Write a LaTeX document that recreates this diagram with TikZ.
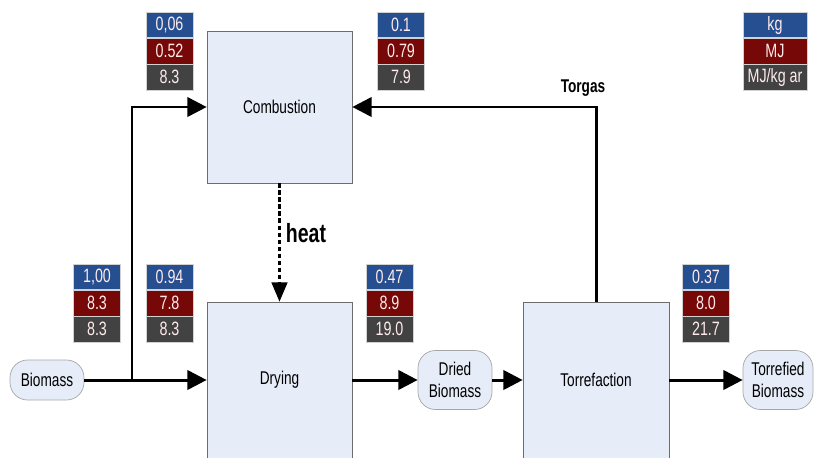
\documentclass[tikz,border=0pt]{standalone}
\usepackage{fontspec}
\setmainfont{Liberation Sans}[FakeStretch=0.74]
\usepackage{tikz}
\usetikzlibrary{arrows.meta,positioning,shapes}

\definecolor{kgblue}{RGB}{38,79,145}
\definecolor{mjred}{RGB}{118,8,8}
\definecolor{hvgray}{RGB}{66,66,66}
\definecolor{procfill}{RGB}{230,236,248}

\tikzset{
  proc/.style = {draw=gray!85!black, fill=procfill, minimum width=2.9cm, inner sep=0pt,
                 font=\fontsize{10.5}{12}\selectfont},
  stream/.style = {draw=gray!70, fill=procfill, rounded corners=0.35cm, inner sep=0pt,
                   minimum width=1.48cm, align=center, font=\fontsize{10.5}{12.5}\selectfont},
  cell/.style = {draw=gray!35, line width=0.3pt, minimum width=0.94cm, minimum height=0.51cm,
                 inner sep=0pt, text=white!92!red, font=\fontsize{11}{12}\selectfont},
  flow/.style = {line width=1.7pt, -{Triangle[length=11pt,width=11pt]}},
  heatflow/.style = {line width=1.2pt, dash pattern=on 2.5pt off 1.5pt, -{Triangle[length=11pt,width=9pt]}}
}

% three stacked cells: kg, MJ, MJ/kg
\newcommand{\DataBox}[6]{%
  \node[cell, fill=kgblue] (#1a) at (#2,#3) {#4};
  \node[cell, fill=mjred, below=0pt of #1a] (#1b) {#5};
  \node[cell, fill=hvgray, below=0pt of #1b] (#1c) {#6};
}

\begin{document}
\begin{tikzpicture}[x=0.02cm, y=-0.02cm]
\clip (0,0) rectangle (814,457);

\node[proc, minimum height=3.04cm] (comb) at (279.5,107) {Combustion};
\node[proc, minimum height=3.12cm] (dry) at (279.5,380) {Drying};
\node[proc, minimum width=2.92cm, minimum height=3.12cm] (torr) at (596,380) {Torrefaction};

\node[stream, minimum height=0.8cm] (bio) at (47,380) {Biomass};
\node[stream, minimum height=1.18cm] (dried) at (455,380) {Dried\\Biomass};
\node[stream, minimum width=1.4cm, minimum height=1.18cm] (torrbio) at (778,380) {Torrefied\\Biomass};

\DataBox{tA}{169.5}{25}{0,06}{0.52}{8.3}
\DataBox{tB}{401}{25}{0.1}{0.79}{7.9}
\begin{scope}[cell/.append style={minimum width=1.28cm}]
\DataBox{unit}{775}{25}{kg}{MJ}{MJ/kg ar}
\end{scope}
\DataBox{tC}{97}{277}{1,00}{8.3}{8.3}
\DataBox{tD}{169.5}{277}{0.94}{7.8}{8.3}
\DataBox{tE}{389.5}{277}{0.47}{8.9}{19.0}
\DataBox{tF}{706}{277}{0.37}{8.0}{21.7}

\coordinate (split) at (132,380);

\draw[flow] (bio) -- (dry);
\draw[flow] (split) |- (comb);
\draw[flow] (dry) -- (dried);
\draw[flow] (dried) -- (torr);
\draw[flow] (torr) -- (torrbio);
\draw[flow] (torr) |- (comb);
\draw[heatflow] (comb) -- (dry);

\node[font=\bfseries\fontsize{10.5}{12}\selectfont] (torgas) at (583,88) {Torgas};
\node[font=\bfseries\fontsize{15}{17}\selectfont] (heat) at (306,233) {heat};

\end{tikzpicture}
\end{document}
